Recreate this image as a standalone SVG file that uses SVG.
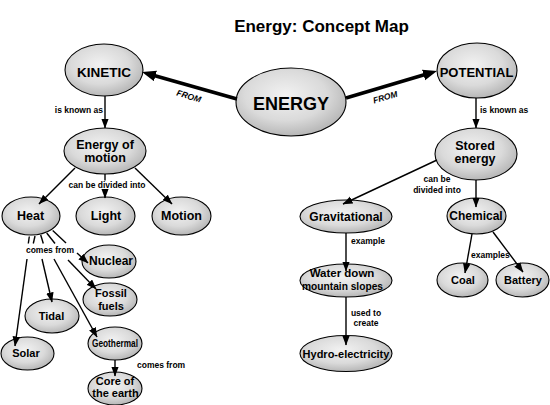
<svg xmlns="http://www.w3.org/2000/svg" width="550" height="405" viewBox="0 0 550 405">
<defs>
<radialGradient id="gf" cx="45%" cy="40%" r="62%">
<stop offset="0" stop-color="#f2f2f2"/>
<stop offset="0.6" stop-color="#dadada"/>
<stop offset="1" stop-color="#b4b4b4"/>
</radialGradient>
<marker id="ah" markerUnits="userSpaceOnUse" markerWidth="10" markerHeight="8" refX="9.5" refY="3.75" orient="auto">
<path d="M0,0 L10,3.75 L0,7.5 z" fill="#000"/>
</marker>
<marker id="ahb" markerUnits="userSpaceOnUse" markerWidth="15" markerHeight="12" refX="6" refY="5.5" orient="auto">
<path d="M0,0 L14,5.5 L0,11 z" fill="#000"/>
</marker>
<style>
.e{fill:url(#gf);stroke:#000;stroke-width:1.1}
.t{font-family:"Liberation Sans",Arial,Helvetica,sans-serif;font-weight:bold;text-anchor:middle;fill:#000}
.s{font-family:"Liberation Sans",Arial,Helvetica,sans-serif;font-weight:bold;font-size:8.5px;fill:#000}
.c{stroke:#000;stroke-width:1.4;fill:none}
.a{marker-end:url(#ah)}
.th{stroke:#000;stroke-width:3.6;fill:none;marker-end:url(#ahb)}
</style>
</defs>
<rect width="550" height="405" fill="#fff"/>
<text class="t" x="321.5" y="32" font-size="17">Energy: Concept Map</text>

<g id="energy"><ellipse class="e" cx="291" cy="102" rx="55" ry="34"/><text class="t" x="291" y="110" font-size="18">ENERGY</text></g>
<g id="kinetic"><ellipse class="e" cx="104" cy="70" rx="39" ry="26"/><text class="t" x="104" y="77" font-size="13.5">KINETIC</text></g>
<g id="potential"><ellipse class="e" cx="477" cy="70.5" rx="40" ry="27.5"/><text class="t" x="476.5" y="77" font-size="13">POTENTIAL</text></g>
<g id="energy-of-motion"><ellipse class="e" cx="105" cy="151" rx="41" ry="23"/><text class="t" x="105" y="148.5" font-size="12.5">Energy of</text><text class="t" x="105" y="162" font-size="12.5">motion</text></g>
<g id="stored-energy"><ellipse class="e" cx="476" cy="154" rx="41" ry="26"/><text class="t" x="475" y="149.5" font-size="12.5">Stored</text><text class="t" x="475" y="162.5" font-size="12.5">energy</text></g>
<g id="heat"><ellipse class="e" cx="31" cy="216" rx="29" ry="19"/><text class="t" x="30.5" y="220" font-size="12.5">Heat</text></g>
<g id="light"><ellipse class="e" cx="105.5" cy="216" rx="29.5" ry="19"/><text class="t" x="106" y="220" font-size="12.5">Light</text></g>
<g id="motion"><ellipse class="e" cx="181.5" cy="216" rx="29.5" ry="19"/><text class="t" x="181.5" y="220" font-size="12.5">Motion</text></g>
<g id="nuclear"><ellipse class="e" cx="109" cy="261.5" rx="27" ry="16.5"/><text class="t" x="111" y="265" font-size="12">Nuclear</text></g>
<g id="fossil-fuels"><ellipse class="e" cx="110" cy="299.5" rx="27" ry="16.5"/><text class="t" x="111" y="297" font-size="11">Fossil</text><text class="t" x="111" y="309.5" font-size="11">fuels</text></g>
<g id="tidal"><ellipse class="e" cx="52" cy="316" rx="27" ry="17"/><text class="t" x="51.5" y="320" font-size="11">Tidal</text></g>
<g id="solar"><ellipse class="e" cx="27.5" cy="353.5" rx="26.5" ry="16.5"/><text class="t" x="26" y="357" font-size="11">Solar</text></g>
<g id="geothermal"><ellipse class="e" cx="115" cy="343.5" rx="27" ry="16.5"/><text class="t" x="115" y="347" font-size="10.5" textLength="46" lengthAdjust="spacingAndGlyphs">Geothermal</text></g>
<g id="core-of-the-earth"><ellipse class="e" cx="115" cy="388.5" rx="27" ry="16.5"/><text class="t" x="115" y="385" font-size="11">Core of</text><text class="t" x="115.5" y="397" font-size="11">the earth</text></g>
<g id="gravitational"><ellipse class="e" cx="346" cy="216.5" rx="46" ry="16.5"/><text class="t" x="346" y="220.5" font-size="12">Gravitational</text></g>
<g id="water-down-mountain-slopes"><ellipse class="e" cx="346" cy="280.5" rx="46" ry="16.5"/><text class="t" x="342" y="277" font-size="11.5">Water down</text><text class="t" x="342.5" y="289.5" font-size="10.5" textLength="81" lengthAdjust="spacingAndGlyphs">mountain slopes</text></g>
<g id="hydro-electricity"><ellipse class="e" cx="346" cy="353.5" rx="46" ry="18"/><text class="t" x="346" y="357.5" font-size="11">Hydro-electricity</text></g>
<g id="chemical"><ellipse class="e" cx="476.5" cy="216" rx="29.5" ry="18"/><text class="t" x="476" y="220" font-size="12">Chemical</text></g>
<g id="coal"><ellipse class="e" cx="462.5" cy="280" rx="25.5" ry="17"/><text class="t" x="463" y="284" font-size="11">Coal</text></g>
<g id="battery"><ellipse class="e" cx="522.5" cy="280" rx="26.5" ry="17"/><text class="t" x="523" y="284" font-size="11">Battery</text></g>

<g id="connectors">
<line class="th" x1="237" y1="99" x2="149.7" y2="74.3"/>
<line class="th" x1="346" y1="98" x2="429.3" y2="73.2"/>
<line class="c a" x1="105" y1="96" x2="105" y2="128"/>
<line class="c a" x1="476" y1="98" x2="476" y2="128"/>
<line class="c a" x1="75" y1="168" x2="39" y2="204"/>
<line class="c" x1="105" y1="174" x2="105" y2="180.5"/>
<line class="c a" x1="105" y1="190" x2="105" y2="198"/>
<line class="c a" x1="135" y1="168" x2="172" y2="204"/>
<line class="c" x1="29.3" y1="236.5" x2="28.3" y2="243.5"/>
<line class="c" x1="35" y1="236" x2="33.3" y2="243.5"/>
<line class="c" x1="40.7" y1="235" x2="43.3" y2="243.5"/>
<line class="c" x1="46.7" y1="233" x2="55" y2="243.5"/>
<line class="c" x1="52.7" y1="230.5" x2="66" y2="243"/>
<line class="c a" x1="27" y1="259" x2="15" y2="346"/>
<line class="c a" x1="42" y1="259" x2="52" y2="302"/>
<line class="c a" x1="54" y1="259" x2="97" y2="337"/>
<line class="c a" x1="68" y1="260" x2="96" y2="289"/>
<line class="c a" x1="77" y1="253" x2="88" y2="263"/>
<line class="c a" x1="115" y1="360" x2="115" y2="376"/>
<line class="c a" x1="437" y1="160" x2="343" y2="204"/>
<line class="c a" x1="476" y1="180" x2="476" y2="207"/>
<line class="c a" x1="346" y1="233" x2="346" y2="271"/>
<line class="c a" x1="346" y1="297" x2="346" y2="345"/>
<line class="c a" x1="472" y1="234" x2="465" y2="273"/>
<line class="c a" x1="493" y1="232" x2="523" y2="272"/>
<text class="s" x="188" y="99" font-style="italic" text-anchor="middle" transform="rotate(17 188 99)">FROM</text>
<text class="s" x="386" y="100" font-style="italic" text-anchor="middle" transform="rotate(-16 386 100)">FROM</text>
<text class="s" x="103" y="113" text-anchor="end">is known as</text>
<text class="s" x="480" y="113">is known as</text>
<text class="s" x="107" y="188" text-anchor="middle">can be divided into</text>
<text class="s" x="437" y="182" text-anchor="middle">can be</text>
<text class="s" x="437" y="193" text-anchor="middle">divided into</text>
<text class="s" x="50" y="253" text-anchor="middle">comes from</text>
<text class="s" x="137" y="368">comes from</text>
<text class="s" x="351" y="244">example</text>
<text class="s" x="366" y="316" text-anchor="middle">used to</text>
<text class="s" x="366" y="326" text-anchor="middle">create</text>
<text class="s" x="471" y="258">examples</text>
</g>
</svg>
